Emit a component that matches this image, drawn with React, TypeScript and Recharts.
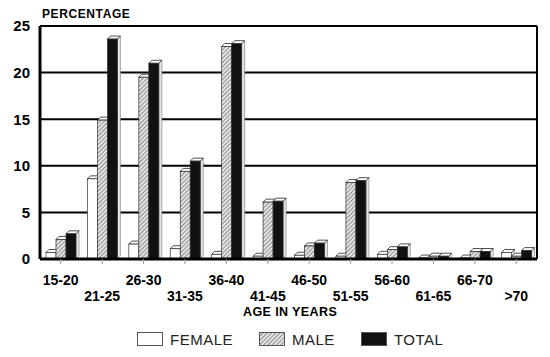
import { BarChart, Bar, XAxis, YAxis, CartesianGrid } from 'recharts'

const ageGroups = ['15-20', '21-25', '26-30', '31-35', '36-40', '41-45', '46-50', '51-55', '56-60', '61-65', '66-70', '>70']
const femalePct = [0.7, 8.6, 1.6, 1.1, 0.5, 0.3, 0.4, 0.3, 0.5, 0.1, 0.1, 0.7]
const malePct = [2.1, 14.9, 19.5, 9.4, 22.8, 6.1, 1.4, 8.2, 1.0, 0.3, 0.8, 0.3]
const totalPct = [2.7, 23.6, 21.0, 10.5, 23.1, 6.2, 1.7, 8.4, 1.3, 0.3, 0.8, 0.9]
const yTicks = [0, 5, 10, 15, 20, 25]

const data = ageGroups.map((age, i) => ({
  age,
  female: femalePct[i],
  male: malePct[i],
  total: totalPct[i],
}))

const FONT = '"Liberation Sans", Arial, Helvetica, sans-serif'

function Bar3D(props: any) {
  const { x = 0, y = 0, width = 0, height = 0, fill } = props
  const d = 3
  return (
    <g>
      <polygon
        points={`${x + width},${y} ${x + width + d},${y - d} ${x + width + d},${y + height - d} ${x + width},${y + height}`}
        fill="#e6e6e6"
        stroke="#777"
        strokeWidth={0.6}
      />
      <polygon
        points={`${x},${y} ${x + d},${y - d} ${x + width + d},${y - d} ${x + width},${y}`}
        fill="#fff"
        stroke="#222"
        strokeWidth={0.8}
      />
      <rect x={x} y={y} width={width} height={height} fill={fill} stroke="#333" strokeWidth={0.7} />
    </g>
  )
}

function AgeTick({ x = 0, y = 0, payload, index = 0 }: any) {
  const dy = index % 2 === 0 ? 19 : 35
  return (
    <text x={x} y={y + dy} textAnchor="middle" fontFamily={FONT} fontWeight={700} fontSize={14} fill="#000">
      {payload.value}
    </text>
  )
}

function LegendItem({ fill, label }: { fill: string; label: string }) {
  return (
    <div style={{ display: 'flex', alignItems: 'center', gap: 6 }}>
      <svg width={27} height={15}>
        <rect x={0.5} y={0.5} width={25} height={13} fill={fill} stroke="#555" />
      </svg>
      <span style={{ fontFamily: FONT, fontSize: 15, color: '#222', letterSpacing: 0.5 }}>{label}</span>
    </div>
  )
}

export default function App() {
  return (
    <div style={{ position: 'absolute', left: 0, top: 0, width: 550, height: 357, background: '#fff' }}>
      <svg width={0} height={0} style={{ position: 'absolute' }}>
        <defs>
          <pattern id="hatch" patternUnits="userSpaceOnUse" width={3} height={3} patternTransform="rotate(45)">
            <rect width={3} height={3} fill="#e4e4e4" />
            <line x1={0} y1={0} x2={0} y2={3} stroke="#555" strokeWidth={1.2} />
          </pattern>
        </defs>
      </svg>
      <div
        style={{
          position: 'absolute', left: 42, top: 7, fontFamily: FONT, fontWeight: 700,
          fontSize: 12, letterSpacing: 0.6, color: '#000',
        }}
      >
        PERCENTAGE
      </div>
      <BarChart
        width={550}
        height={357}
        data={data}
        margin={{ top: 26, right: 12, left: 0, bottom: 58 }}
        barGap={0}
        barSize={10}
      >
        <CartesianGrid vertical={false} stroke="#000" strokeWidth={2} strokeDasharray="" />
        <XAxis
          dataKey="age"
          height={40}
          interval={0}
          tick={<AgeTick />}
          axisLine={{ stroke: '#000', strokeWidth: 3 }}
          tickLine={{ stroke: '#999' }}
          tickSize={5}
        />
        <YAxis
          domain={[0, 25]}
          ticks={yTicks}
          width={40}
          axisLine={{ stroke: '#000', strokeWidth: 3 }}
          tickLine={false}
          tick={{ fill: '#000', fontSize: 15, fontWeight: 700, fontFamily: FONT, dx: -2 }}
        />
        <YAxis
          yAxisId="frame"
          orientation="right"
          domain={[0, 25]}
          width={1}
          tick={false}
          tickLine={false}
          axisLine={{ stroke: '#000', strokeWidth: 2 }}
        />
        <Bar dataKey="female" fill="#fff" shape={<Bar3D />} isAnimationActive={false} />
        <Bar dataKey="male" fill="url(#hatch)" shape={<Bar3D />} isAnimationActive={false} />
        <Bar dataKey="total" fill="#111" shape={<Bar3D />} isAnimationActive={false} />
      </BarChart>
      <div
        style={{
          position: 'absolute', left: 243, top: 305, fontFamily: FONT, fontWeight: 700,
          fontSize: 12.5, letterSpacing: 0.4, color: '#000',
        }}
      >
        AGE IN YEARS
      </div>
      <div style={{ position: 'absolute', left: 137, top: 331, display: 'flex', gap: 26 }}>
        <LegendItem fill="#fff" label="FEMALE" />
        <LegendItem fill="url(#hatch)" label="MALE" />
        <LegendItem fill="#111" label="TOTAL" />
      </div>
    </div>
  )
}
